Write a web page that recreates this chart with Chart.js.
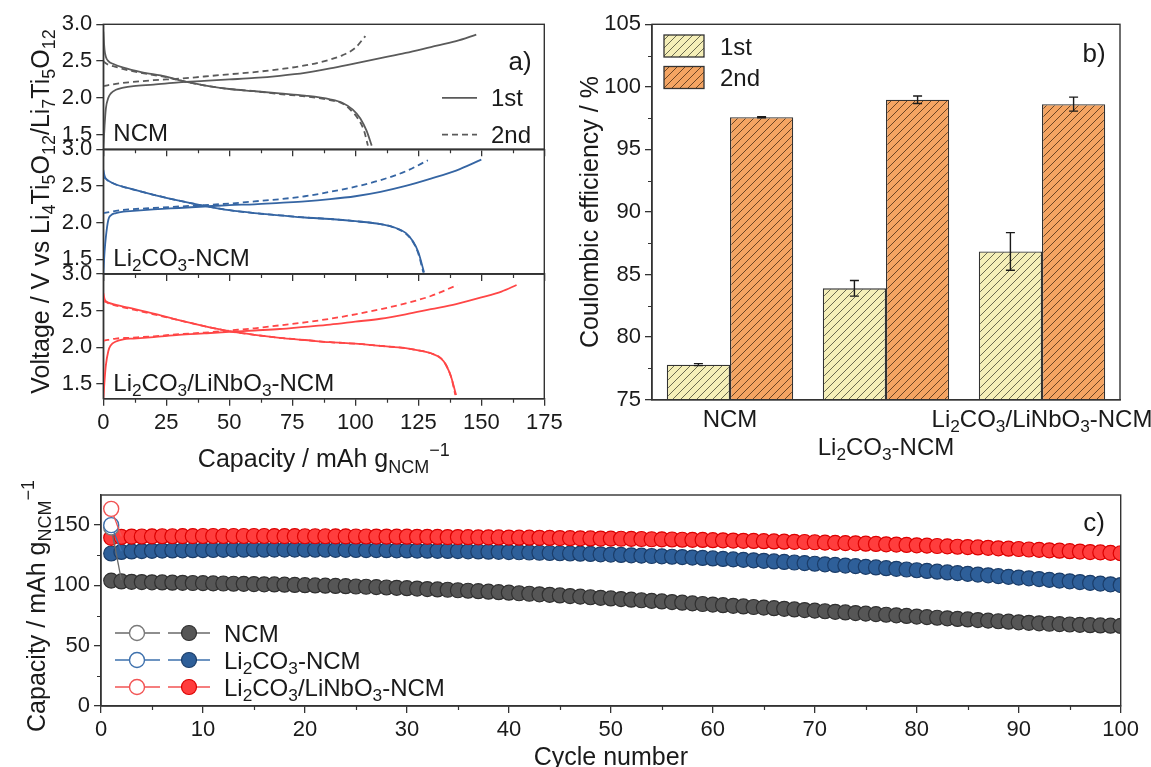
<!DOCTYPE html>
<html><head><meta charset="utf-8">
<script src="https://cdn.jsdelivr.net/npm/chart.js@4.4.0/dist/chart.umd.min.js"></script>
<style>
html,body{margin:0;padding:0;background:#fff}
#wrap{position:relative;width:1151px;height:767px;overflow:hidden;background:#fff}
canvas{position:absolute;left:0;top:0}
</style></head>
<body><div id="wrap"></div>
<script>
// ---------------- DATA ----------------
// Panel a: axis ticks
const capTicks = [0, 25, 50, 75, 100, 125, 150, 175];
const capMinor = [12.5, 37.5, 62.5, 87.5, 112.5, 137.5, 162.5];
const voltTicks = [1.5, 2.0, 2.5, 3.0];
const sampleNames = ["NCM", "Li_{2}CO_{3}-NCM", "Li_{2}CO_{3}/LiNbO_{3}-NCM"];

// NCM voltage profiles
const ncmCh1Cap = [0, 0.5, 1, 2, 3, 5, 8, 12, 20, 30, 40, 50, 60, 70, 80, 90, 100, 110, 120, 130, 140, 148];
const ncmCh1V   = [1.3, 1.62, 1.85, 2.0, 2.06, 2.11, 2.14, 2.16, 2.18, 2.21, 2.23, 2.25, 2.27, 2.3, 2.34, 2.4, 2.47, 2.54, 2.61, 2.69, 2.77, 2.86];
const ncmDis1Cap = [0, 0.5, 1, 2, 4, 8, 15, 25, 30, 40, 50, 60, 70, 80, 90, 95, 99, 102, 104.5, 106.5];
const ncmDis1V   = [2.9, 2.65, 2.56, 2.5, 2.46, 2.41, 2.35, 2.29, 2.24, 2.17, 2.12, 2.09, 2.06, 2.03, 1.98, 1.93, 1.84, 1.72, 1.55, 1.35];
const ncmCh2Cap = [0, 5, 10, 20, 30, 40, 50, 60, 70, 80, 90, 95, 100, 104];
const ncmCh2V   = [2.16, 2.19, 2.21, 2.24, 2.26, 2.29, 2.32, 2.35, 2.39, 2.44, 2.52, 2.58, 2.68, 2.84];
const ncmDis2Cap = [0, 1, 2, 4, 8, 15, 25, 30, 40, 50, 60, 70, 80, 90, 95, 98, 101, 103.5, 105];
const ncmDis2V   = [2.5, 2.47, 2.45, 2.43, 2.39, 2.34, 2.28, 2.24, 2.17, 2.12, 2.09, 2.05, 2.02, 1.97, 1.92, 1.84, 1.72, 1.55, 1.35];

// Li2CO3-NCM voltage profiles
const lcoCh1Cap = [0, 0.5, 1, 2, 3, 5, 8, 12, 20, 30, 40, 50, 60, 70, 80, 90, 100, 110, 120, 130, 140, 150];
const lcoCh1V   = [1.3, 1.6, 1.8, 2.04, 2.1, 2.13, 2.15, 2.16, 2.18, 2.2, 2.22, 2.24, 2.25, 2.27, 2.29, 2.32, 2.36, 2.42, 2.5, 2.6, 2.71, 2.86];
const lcoDis1Cap = [0, 0.5, 1, 2, 5, 10, 20, 30, 40, 50, 60, 70, 80, 90, 100, 110, 115, 120, 123, 125, 127.3];
const lcoDis1V   = [2.72, 2.64, 2.6, 2.57, 2.52, 2.47, 2.38, 2.3, 2.23, 2.17, 2.13, 2.1, 2.07, 2.05, 2.02, 1.98, 1.94, 1.86, 1.74, 1.6, 1.32];
const lcoCh2Cap = [0, 5, 10, 20, 30, 40, 50, 60, 70, 80, 90, 100, 110, 120, 128.8];
const lcoCh2V   = [2.13, 2.16, 2.18, 2.2, 2.22, 2.24, 2.26, 2.29, 2.32, 2.36, 2.42, 2.49, 2.58, 2.7, 2.85];
const lcoDis2Cap = [0, 1, 2, 5, 10, 20, 30, 40, 50, 60, 70, 80, 90, 100, 110, 115, 120, 123, 125, 127];
const lcoDis2V   = [2.62, 2.6, 2.57, 2.52, 2.47, 2.38, 2.3, 2.23, 2.17, 2.13, 2.1, 2.07, 2.05, 2.02, 1.98, 1.94, 1.85, 1.73, 1.58, 1.32];

// Li2CO3/LiNbO3-NCM voltage profiles
const lnoCh1Cap = [0, 0.5, 1, 2, 3, 5, 8, 12, 20, 30, 40, 50, 60, 70, 80, 90, 100, 110, 120, 130, 140, 150, 158, 164];
const lnoCh1V   = [1.3, 1.55, 1.75, 1.95, 2.03, 2.08, 2.11, 2.12, 2.14, 2.17, 2.19, 2.21, 2.23, 2.25, 2.28, 2.31, 2.35, 2.39, 2.45, 2.52, 2.59, 2.68, 2.76, 2.85];
const lnoDis1Cap = [0, 0.5, 1, 2, 5, 10, 20, 30, 40, 50, 60, 70, 80, 90, 100, 110, 120, 125, 130, 134, 136, 138, 140];
const lnoDis1V   = [2.74, 2.66, 2.63, 2.61, 2.58, 2.54, 2.46, 2.37, 2.29, 2.22, 2.17, 2.13, 2.1, 2.07, 2.05, 2.02, 1.99, 1.96, 1.92, 1.85, 1.76, 1.6, 1.35];
const lnoCh2Cap = [0, 5, 10, 20, 30, 40, 50, 60, 70, 80, 90, 100, 110, 120, 130, 140.5];
const lnoCh2V   = [2.09, 2.12, 2.13, 2.15, 2.18, 2.2, 2.23, 2.26, 2.3, 2.34, 2.39, 2.45, 2.52, 2.6, 2.7, 2.85];
const lnoDis2Cap = [0, 1, 2, 5, 10, 20, 30, 40, 50, 60, 70, 80, 90, 100, 110, 120, 125, 130, 134, 136, 138, 139.7];
const lnoDis2V   = [2.63, 2.62, 2.6, 2.57, 2.53, 2.45, 2.37, 2.29, 2.22, 2.17, 2.13, 2.1, 2.07, 2.05, 2.02, 1.99, 1.96, 1.92, 1.85, 1.76, 1.6, 1.35];

// Panel b: Coulombic efficiency
const ceCategories = ["NCM", "Li_{2}CO_{3}-NCM", "Li_{2}CO_{3}/LiNbO_{3}-NCM"];
const ce1st = [77.8, 83.9, 86.85];
const ce1stErr = [0.08, 0.62, 1.5];
const ce2nd = [97.57, 98.97, 98.62];
const ce2ndErr = [0.05, 0.3, 0.56];
const ceTicks = [75, 80, 85, 90, 95, 100, 105];
const ceMinor = [77.5, 82.5, 87.5, 92.5, 97.5, 102.5];

// Panel c: cycling
const cycles = [1,2,3,4,5,6,7,8,9,10,11,12,13,14,15,16,17,18,19,20,21,22,23,24,25,26,27,28,29,30,31,32,33,34,35,36,37,38,39,40,41,42,43,44,45,46,47,48,49,50,51,52,53,54,55,56,57,58,59,60,61,62,63,64,65,66,67,68,69,70,71,72,73,74,75,76,77,78,79,80,81,82,83,84,85,86,87,88,89,90,91,92,93,94,95,96,97,98,99,100];
const ncmDis = [104.0,103.3,103.0,102.8,102.6,102.5,102.3,102.2,102.0,101.9,101.7,101.6,101.4,101.3,101.1,100.9,100.8,100.6,100.4,100.2,100.0,99.8,99.6,99.4,99.1,98.9,98.6,98.3,98.0,97.7,97.4,97.0,96.7,96.4,96.0,95.6,95.2,94.8,94.4,94.0,93.5,93.1,92.6,92.2,91.7,91.2,90.7,90.2,89.7,89.2,88.7,88.2,87.7,87.2,86.7,86.2,85.7,85.1,84.6,84.1,83.6,83.1,82.6,82.1,81.6,81.1,80.6,80.1,79.6,79.1,78.6,78.1,77.6,77.1,76.6,76.2,75.7,75.2,74.7,74.2,73.7,73.2,72.7,72.2,71.8,71.3,70.8,70.3,69.9,69.4,69.0,68.6,68.2,67.9,67.6,67.3,67.0,66.8,66.6,66.4];
const lcoDis = [126.5,127.8,128.2,128.5,128.7,128.9,129.0,129.1,129.2,129.3,129.4,129.5,129.5,129.6,129.6,129.6,129.7,129.7,129.7,129.6,129.6,129.6,129.5,129.5,129.4,129.3,129.3,129.2,129.1,129.0,128.9,128.8,128.7,128.6,128.5,128.3,128.2,128.0,127.9,127.7,127.5,127.3,127.1,126.9,126.7,126.5,126.3,126.1,125.8,125.6,125.3,125.0,124.7,124.4,124.1,123.8,123.5,123.1,122.8,122.4,122.0,121.6,121.2,120.8,120.4,119.9,119.5,119.0,118.5,118.0,117.5,117.0,116.5,116.0,115.4,114.9,114.3,113.8,113.2,112.6,112.0,111.4,110.8,110.2,109.6,109.0,108.4,107.7,107.1,106.5,105.9,105.3,104.6,104.0,103.4,102.8,102.1,101.5,100.9,100.3];
const lnoDis = [139.5,140.2,140.5,140.6,140.7,140.8,140.8,140.9,140.9,141.0,141.0,141.0,141.0,141.0,141.0,141.0,140.9,140.9,140.9,140.8,140.8,140.8,140.7,140.7,140.6,140.6,140.5,140.5,140.4,140.4,140.3,140.3,140.2,140.1,140.1,140.0,139.9,139.9,139.8,139.7,139.6,139.6,139.5,139.4,139.3,139.2,139.1,139.0,138.9,138.8,138.7,138.6,138.5,138.3,138.2,138.1,137.9,137.8,137.7,137.5,137.4,137.2,137.0,136.9,136.7,136.5,136.3,136.2,136.0,135.8,135.5,135.3,135.1,134.9,134.6,134.4,134.1,133.9,133.6,133.3,133.0,132.7,132.4,132.1,131.8,131.5,131.2,130.8,130.5,130.2,129.8,129.5,129.1,128.8,128.4,128.1,127.7,127.4,127.0,126.7];
const chgCycles = [1, 2];
const ncmChg = [148, 104.5];
const lcoChg = [150, 128.3];
const lnoChg = [163.5, 140.6];
const cycTicks = [0, 10, 20, 30, 40, 50, 60, 70, 80, 90, 100];
const cycMinor = [5, 15, 25, 35, 45, 55, 65, 75, 85, 95];
const cycCapTicks = [0, 50, 100, 150];
const cycCapMinor = [25, 75, 125];

// ---------------- HELPERS ----------------
const W = 1151, H = 767, YW = 80, XH = 40;
const FAM = '"Liberation Sans", Arial, sans-serif';
const AX = '#333333', TXT = '#1a1a1a';
const TICKF = 22, LABF = 24, TITF = 25;

function richParse(str){
  const out = []; let i = 0, buf = '';
  while (i < str.length){
    const ch = str[i];
    if ((ch === '_' || ch === '^') && str[i+1] === '{'){
      if (buf){ out.push({t: buf, m: 0}); buf = ''; }
      const end = str.indexOf('}', i);
      out.push({t: str.slice(i+2, end), m: ch === '_' ? 1 : 2});
      i = end + 1;
    } else { buf += ch; i++; }
  }
  if (buf) out.push({t: buf, m: 0});
  return out;
}
function drawRich(ctx, str, x, y, size, opt){
  opt = opt || {};
  const segs = richParse(str);
  const f = m => (m ? size*0.72 : size) + 'px ' + FAM;
  let w = 0;
  segs.forEach(s => { ctx.font = f(s.m); s.w = ctx.measureText(s.t).width; w += s.w; });
  ctx.save();
  ctx.translate(x, y);
  if (opt.rot) ctx.rotate(opt.rot);
  let cx = opt.align === 'center' ? -w/2 : (opt.align === 'right' ? -w : 0);
  ctx.fillStyle = opt.color || TXT;
  ctx.textBaseline = 'alphabetic'; ctx.textAlign = 'left';
  const base = size * 0.36;
  segs.forEach(s => {
    ctx.font = f(s.m);
    const dy = s.m === 1 ? base + size*0.22 : (s.m === 2 ? base - size*0.45 : base);
    ctx.fillText(s.t, cx, dy);
    cx += s.w;
  });
  ctx.restore();
}

const framePlugin = {
  id: 'frame',
  afterDraw(ch){
    const a = ch.chartArea, c = ch.ctx;
    c.save(); c.strokeStyle = AX; c.lineWidth = 1.4;
    c.strokeRect(a.left, a.top, a.right - a.left, a.bottom - a.top);
    c.restore();
  }
};
const minorPlugin = {
  id: 'minorTicks',
  afterDraw(ch, args, o){
    const a = ch.chartArea, c = ch.ctx;
    c.save(); c.strokeStyle = AX; c.lineWidth = 1.2; c.beginPath();
    (o.x || []).forEach(v => { const p = Math.round(ch.scales.x.getPixelForValue(v)) + 0.5; c.moveTo(p, a.bottom); c.lineTo(p, a.bottom + 4); });
    (o.y || []).forEach(v => { const p = Math.round(ch.scales.y.getPixelForValue(v)) + 0.5; c.moveTo(a.left, p); c.lineTo(a.left - 4, p); });
    c.stroke(); c.restore();
  }
};
const textPlugin = {
  id: 'texts',
  afterDraw(ch, args, o){
    if (o.draw) o.draw(ch, ch.ctx);
  }
};

function axisCommon(){
  return {
    grid: {display: true, drawOnChartArea: false, drawTicks: true, tickLength: 7, color: AX, lineWidth: 1.3},
    border: {display: true, color: AX, width: 1.4},
  };
}

function mk(rect, cfg){
  const cv = document.createElement('canvas');
  cv.width = W; cv.height = H;
  document.getElementById('wrap').appendChild(cv);
  const o = cfg.options;
  o.responsive = false; o.animation = false; o.devicePixelRatio = 1;
  o.layout = {padding: {left: rect.l - YW, top: rect.t, right: W - rect.r, bottom: H - rect.b - XH}};
  o.scales.x.afterFit = s => { s.height = XH; };
  o.scales.y.afterFit = s => { s.width = YW; };
  o.plugins = Object.assign({legend: {display: false}, tooltip: {enabled: false}}, o.plugins || {});
  cfg.plugins = [framePlugin, minorPlugin, textPlugin];
  return new Chart(cv, cfg);
}
function pts(xs, ys){ return xs.map((x, i) => ({x: x, y: ys[i]})); }
function curve(xs, ys, col, dash){
  return {data: pts(xs, ys), showLine: true, borderColor: col, borderWidth: 1.8, borderDash: dash,
          pointRadius: 0, cubicInterpolationMode: 'monotone', fill: false};
}

// ---------------- PANEL a ----------------
const aL = 103.3, aR = 544.3;
const aRows = [[24.3, 149.3], [149.3, 274], [274, 398.7]];
const aColors = ['#5a5a5a', '#3565a3', '#ff4646'];
const aSets = [
  [ncmCh1Cap, ncmCh1V, ncmDis1Cap, ncmDis1V, ncmCh2Cap, ncmCh2V, ncmDis2Cap, ncmDis2V],
  [lcoCh1Cap, lcoCh1V, lcoDis1Cap, lcoDis1V, lcoCh2Cap, lcoCh2V, lcoDis2Cap, lcoDis2V],
  [lnoCh1Cap, lnoCh1V, lnoDis1Cap, lnoDis1V, lnoCh2Cap, lnoCh2V, lnoDis2Cap, lnoDis2V]
];
const DASH = [6, 4];

aSets.forEach((s, k) => {
  const col = aColors[k];
  const last = k === 2;
  const xAx = Object.assign(axisCommon(), {
    type: 'linear', min: 0, max: 175,
    afterBuildTicks: sc => { sc.ticks = capTicks.map(v => ({value: v})); },
    ticks: {display: last, font: {size: TICKF, family: FAM}, color: TXT, padding: 4, maxRotation: 0}
  });
  const yAx = Object.assign(axisCommon(), {
    type: 'linear', min: 1.3, max: 3.0,
    afterBuildTicks: sc => { sc.ticks = voltTicks.map(v => ({value: v})); },
    ticks: {font: {size: TICKF, family: FAM}, color: TXT, padding: 4, callback: v => Number(v).toFixed(1)}
  });
  mk({l: aL, r: aR, t: aRows[k][0], b: aRows[k][1]}, {
    type: 'scatter',
    data: {datasets: [
      curve(s[4], s[5], col, DASH),
      curve(s[6], s[7], col, DASH),
      curve(s[0], s[1], col, []),
      curve(s[2], s[3], col, [])
    ]},
    options: {
      scales: {x: xAx, y: yAx},
      plugins: {
        minorTicks: {x: capMinor},
        texts: {draw: (ch, c) => {
          const y15 = ch.scales.y.getPixelForValue(1.5);
          drawRich(c, sampleNames[k], ch.chartArea.left + 10, y15 - 2, LABF, {align: 'left'});
          if (k === 0){
            const y20 = ch.scales.y.getPixelForValue(2.0);
            c.save(); c.strokeStyle = '#5a5a5a'; c.lineWidth = 1.8;
            c.beginPath(); c.moveTo(442, y20); c.lineTo(477, y20); c.stroke();
            c.setLineDash(DASH); c.beginPath(); c.moveTo(442, y15); c.lineTo(477, y15); c.stroke();
            c.restore();
            drawRich(c, '1st', 491, y20, LABF, {align: 'left'});
            drawRich(c, '2nd', 491, y15, LABF, {align: 'left'});
            drawRich(c, 'a)', 520, 61, 26, {align: 'center'});
          }
          if (last){
            drawRich(c, 'Capacity / mAh g_{NCM}^{\u22121}', (aL + aR)/2, 458, TITF, {align: 'center'});
            drawRich(c, 'Voltage / V vs Li_{4}Ti_{5}O_{12}/Li_{7}Ti_{5}O_{12}', 40, 211.5, TITF, {align: 'center', rot: -Math.PI/2});
          }
        }}
      }
    }
  });
});

// ---------------- PANEL b ----------------
function hatch(bg, line){
  const s = 8, p = document.createElement('canvas');
  p.width = s; p.height = s;
  const g = p.getContext('2d');
  g.fillStyle = bg; g.fillRect(0, 0, s, s);
  g.strokeStyle = line; g.lineWidth = 0.9;
  g.beginPath();
  g.moveTo(0, s); g.lineTo(s, 0);
  g.moveTo(-2, 2); g.lineTo(2, -2);
  g.moveTo(s - 2, s + 2); g.lineTo(s + 2, s - 2);
  g.stroke();
  return g.createPattern(p, 'repeat');
}
const pat1 = hatch('#f5efb8', '#5b5a44');
const pat2 = hatch('#f4a462', '#5e3a1c');

const bRect = {l: 652, r: 1120, t: 24.3, b: 399.7};
mk(bRect, {
  type: 'bar',
  data: {
    labels: ceCategories,
    datasets: [
      {label: '1st', data: ce1st, backgroundColor: pat1, borderColor: '#333', borderWidth: 1.3, categoryPercentage: 0.81, barPercentage: 1.0},
      {label: '2nd', data: ce2nd, backgroundColor: pat2, borderColor: '#333', borderWidth: 1.3, categoryPercentage: 0.81, barPercentage: 1.0}
    ]
  },
  options: {
    scales: {
      x: Object.assign(axisCommon(), {grid: {display: false}, ticks: {display: false}}),
      y: Object.assign(axisCommon(), {
        min: 75, max: 105,
        afterBuildTicks: sc => { sc.ticks = ceTicks.map(v => ({value: v})); },
        ticks: {font: {size: TICKF, family: FAM}, color: TXT, padding: 4}
      })
    },
    plugins: {
      minorTicks: {y: ceMinor},
      texts: {draw: (ch, c) => {
        const ys = ch.scales.y;
        // error bars
        [[ce1st, ce1stErr], [ce2nd, ce2ndErr]].forEach((pair, di) => {
          const meta = ch.getDatasetMeta(di);
          pair[0].forEach((v, i) => {
            const x = meta.data[i].x;
            const yt = ys.getPixelForValue(v + pair[1][i]);
            const yb = ys.getPixelForValue(v - pair[1][i]);
            c.save(); c.strokeStyle = '#1a1a1a'; c.lineWidth = 1.4;
            c.beginPath();
            c.moveTo(x, yt); c.lineTo(x, yb);
            c.moveTo(x - 4.5, yt); c.lineTo(x + 4.5, yt);
            c.moveTo(x - 4.5, yb); c.lineTo(x + 4.5, yb);
            c.stroke(); c.restore();
          });
        });
        // category labels (middle one offset lower)
        ceCategories.forEach((lab, i) => {
          const x = ch.scales.x.getPixelForValue(i);
          drawRich(c, lab, x, i === 1 ? 446 : 418, LABF, {align: 'center'});
        });
        // legend
        [[pat1, '1st', 35], [pat2, '2nd', 66.5]].forEach(e => {
          c.save(); c.fillStyle = e[0]; c.fillRect(664, e[2], 40, 22);
          c.strokeStyle = '#333'; c.lineWidth = 1.3; c.strokeRect(664, e[2], 40, 22); c.restore();
          drawRich(c, e[1], 720, e[2] + 11, LABF, {align: 'left'});
        });
        drawRich(c, 'b)', 1094, 53, 26, {align: 'center'});
        drawRich(c, 'Coulombic efficiency / %', 589, (bRect.t + bRect.b)/2, TITF, {align: 'center', rot: -Math.PI/2});
      }}
    }
  }
});

// ---------------- PANEL c ----------------
const cRect = {l: 101, r: 1120.7, t: 495, b: 706};
const cSeries = [
  {name: 'NCM', dis: ncmDis, chg: ncmChg, fill: '#565656', edge: '#303030', open: '#7a7a7a', line: '#6a6a6a', row: 633},
  {name: 'Li_{2}CO_{3}-NCM', dis: lcoDis, chg: lcoChg, fill: '#2e5f99', edge: '#1b3d69', open: '#3e71ad', line: '#3e71ad', row: 660},
  {name: 'Li_{2}CO_{3}/LiNbO_{3}-NCM', dis: lnoDis, chg: lnoChg, fill: '#ff3d3d', edge: '#dd0000', open: '#f25454', line: '#f25454', row: 687}
];
const R = 7.5;
const cDatasets = [];
[2, 1, 0].forEach(i => {
  const s = cSeries[i];
  cDatasets.push({data: pts(chgCycles, s.chg), showLine: true, borderColor: s.line, borderWidth: 1.3,
    pointRadius: [R, 0], pointBackgroundColor: '#ffffff', pointBorderColor: s.open, pointBorderWidth: 1.4});
});
[2, 1, 0].forEach(i => {
  const s = cSeries[i];
  cDatasets.push({data: pts(cycles, s.dis), showLine: true, borderColor: s.line, borderWidth: 1.3,
    pointRadius: R, pointBackgroundColor: s.fill, pointBorderColor: s.edge, pointBorderWidth: 1.2});
});
mk(cRect, {
  type: 'scatter',
  data: {datasets: cDatasets},
  options: {
    scales: {
      x: Object.assign(axisCommon(), {
        type: 'linear', min: 0, max: 100,
        afterBuildTicks: sc => { sc.ticks = cycTicks.map(v => ({value: v})); },
        ticks: {font: {size: TICKF, family: FAM}, color: TXT, padding: 4, maxRotation: 0}
      }),
      y: Object.assign(axisCommon(), {
        type: 'linear', min: 0, max: 175,
        afterBuildTicks: sc => { sc.ticks = cycCapTicks.map(v => ({value: v})); },
        ticks: {font: {size: TICKF, family: FAM}, color: TXT, padding: 4}
      })
    },
    plugins: {
      minorTicks: {x: cycMinor, y: cycCapMinor},
      texts: {draw: (ch, c) => {
        cSeries.forEach(s => {
          const y = s.row;
          c.save(); c.strokeStyle = s.line; c.lineWidth = 1.5;
          c.beginPath(); c.moveTo(115, y); c.lineTo(160, y); c.moveTo(168, y); c.lineTo(210, y); c.stroke();
          c.beginPath(); c.arc(137, y, R, 0, Math.PI*2); c.fillStyle = '#fff'; c.fill();
          c.lineWidth = 1.4; c.strokeStyle = s.open; c.stroke();
          c.beginPath(); c.arc(189, y, R, 0, Math.PI*2); c.fillStyle = s.fill; c.fill();
          c.lineWidth = 1.2; c.strokeStyle = s.edge; c.stroke();
          c.restore();
          drawRich(c, s.name, 224, y, LABF, {align: 'left'});
        });
        drawRich(c, 'c)', 1094, 522, 26, {align: 'center'});
        drawRich(c, 'Cycle number', (cRect.l + cRect.r)/2, 756, TITF, {align: 'center'});
        drawRich(c, 'Capacity / mAh g_{NCM}^{\u22121}', 36, 606, TITF, {align: 'center', rot: -Math.PI/2});
      }}
    }
  }
});
</script>
</body></html>
